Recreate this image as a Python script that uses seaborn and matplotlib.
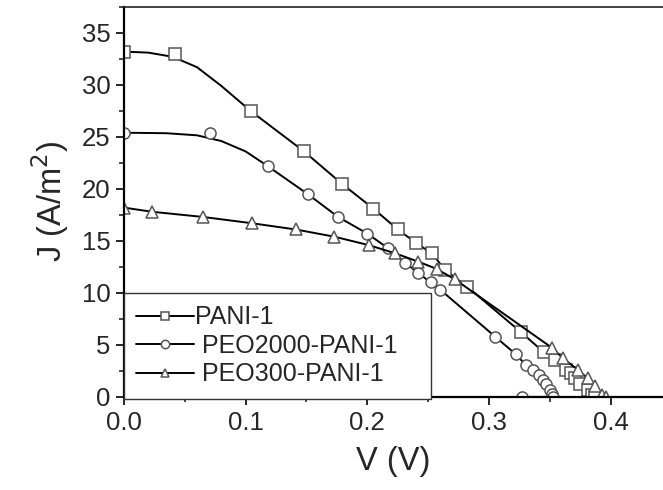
import numpy as np
import pandas as pd
import seaborn as sns
import matplotlib.pyplot as plt
from matplotlib.lines import Line2D
from matplotlib.ticker import MultipleLocator

pani_v = [0.0, 0.042, 0.104, 0.148, 0.179, 0.205, 0.225, 0.240, 0.253, 0.264, 0.282,
          0.326, 0.345, 0.354, 0.363, 0.367, 0.371, 0.375, 0.381, 0.385, 0.387]
pani_j = [33.2, 33.0, 27.5, 23.6, 20.5, 18.1, 16.1, 14.8, 13.8, 12.2, 10.6,
          6.25, 4.3, 3.5, 2.6, 2.3, 1.8, 1.2, 0.7, 0.2, 0.0]

peo2000_v = [0.0, 0.071, 0.118, 0.151, 0.176, 0.200, 0.217, 0.231, 0.242, 0.252, 0.260,
             0.305, 0.322, 0.330, 0.336, 0.341, 0.344, 0.347, 0.350, 0.352, 0.353, 0.327]
peo2000_j = [25.4, 25.4, 22.2, 19.5, 17.3, 15.7, 14.3, 12.9, 11.9, 11.0, 10.3,
             5.8, 4.1, 3.1, 2.6, 2.1, 1.6, 1.2, 0.7, 0.3, 0.0, 0.0]

peo300_v = [0.0, 0.023, 0.065, 0.105, 0.141, 0.173, 0.201, 0.223, 0.242, 0.257, 0.272,
            0.352, 0.361, 0.373, 0.381, 0.387, 0.393, 0.396]
peo300_j = [18.2, 17.8, 17.3, 16.7, 16.1, 15.4, 14.6, 13.8, 13.0, 12.3, 11.3,
            4.7, 3.7, 2.6, 1.8, 1.0, 0.2, 0.0]

# the drawn line is a smooth fit near V=0; points of that curve
pani_head_v = [0.0, 0.02, 0.04, 0.06, 0.08]
pani_head_j = [33.2, 33.1, 32.7, 31.7, 29.9]
peo2000_head_v = [0.0, 0.035, 0.06, 0.08, 0.1]
peo2000_head_j = [25.4, 25.35, 25.15, 24.6, 23.6]

labels = ["PANI-1", " PEO2000-PANI-1", " PEO300-PANI-1"]
markers = ["s", "o", "^"]

sns.set_style("ticks")
plt.rcParams["font.family"] = ["Liberation Sans", "DejaVu Sans"]

fig = plt.figure(figsize=(6.63, 4.90), dpi=100)
ax = fig.add_axes([0.187, 0.19, 0.813, 0.796])

lines = [
    (pani_head_v + pani_v[2:], pani_head_j + pani_j[2:]),
    (peo2000_head_v + peo2000_v[2:], peo2000_head_j + peo2000_j[2:]),
    (peo300_v, peo300_j),
]
points = [(pani_v, pani_j), (peo2000_v, peo2000_j), (peo300_v, peo300_j)]

mstyle = dict(markerfacecolor="white", markeredgecolor="#555555", markeredgewidth=1.1)

for (lv, lj), (pv, pj), mk in zip(lines, points, markers):
    sns.lineplot(x=lv, y=lj, ax=ax, sort=False, estimator=None,
                 color="black", linewidth=1.4)
    sns.lineplot(x=pv, y=pj, ax=ax, sort=False, estimator=None,
                 linestyle="", marker=mk, markersize=8, **mstyle)

ax.set_xlim(0, 0.443)
ax.set_ylim(0, 37.5)
ax.xaxis.set_major_locator(MultipleLocator(0.1))
ax.xaxis.set_minor_locator(MultipleLocator(0.05))
ax.yaxis.set_major_locator(MultipleLocator(5))
ax.yaxis.set_minor_locator(MultipleLocator(2.5))
ax.xaxis.set_major_formatter(plt.FuncFormatter(lambda x, p: f"{x:.1f}"))

ax.tick_params(which="major", length=6, width=1.4, labelsize=18.5, direction="out")
ax.tick_params(which="minor", length=3.5, width=1.2, direction="out")
ax.tick_params(axis="x", pad=4)

for s in ["left", "bottom"]:
    ax.spines[s].set_linewidth(1.6)
    ax.spines[s].set_color("black")
ax.spines["top"].set_visible(True)
ax.spines["top"].set_linewidth(1.2)
ax.spines["top"].set_color("#222222")
ax.spines["right"].set_visible(False)

ax.set_xlabel("V (V)", fontsize=23.5, labelpad=8)
ax.set_ylabel("J (A/m$^2$)", fontsize=23.5, labelpad=8)

handles = [Line2D([], [], color="black", linewidth=1.4, marker=mk, markersize=6, **mstyle)
           for mk in markers]
leg = ax.legend(handles, labels, loc="upper left",
                bbox_to_anchor=(0.0, 0.0107, 0.57, 10 / 37.5 - 0.0107),
                mode="expand", fontsize=18, handlelength=2.3, handletextpad=0.05,
                labelspacing=0.18, borderpad=0.5, borderaxespad=0.0,
                fancybox=False, framealpha=1.0, edgecolor="#333333")
leg.get_frame().set_linewidth(1.0)

fig.savefig("out.png", dpi=100)
